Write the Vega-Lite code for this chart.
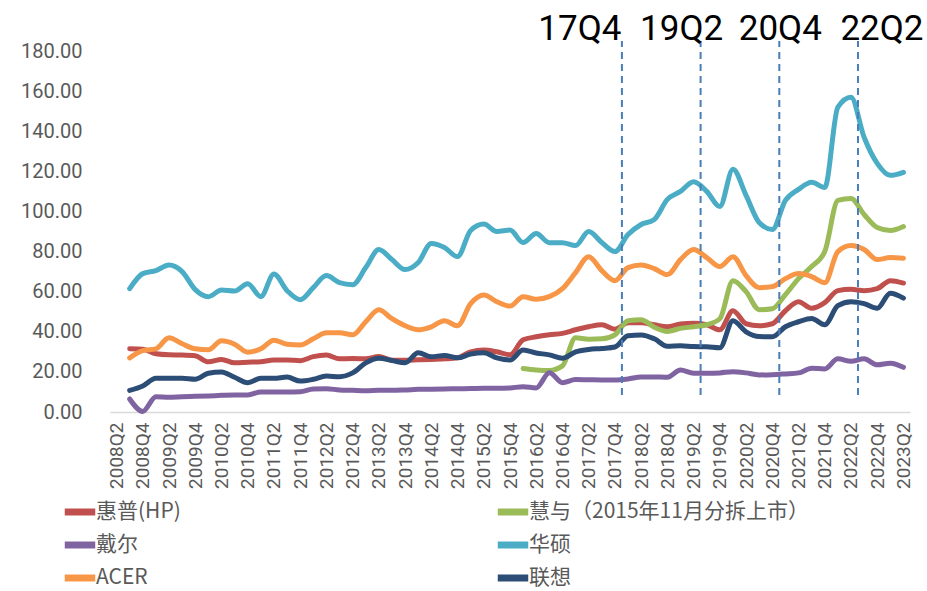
{
  "$schema": "https://vega.github.io/schema/vega-lite/v6.json",
  "width": 800,
  "height": 361,
  "autosize": {"type": "none"},
  "padding": {"left": 110, "top": 51, "right": 17, "bottom": 179},
  "background": "white",
  "config": {"view": {"stroke": null}},
  "datasets": {
    "marks": [
      {"label": "17Q4", "q": "2017Q4"},
      {"label": "19Q2", "q": "2019Q2"},
      {"label": "20Q4", "q": "2020Q4"},
      {"label": "22Q2", "q": "2022Q2"}
    ],
    "series": [
      {"q":"2008Q3","s":"惠普(HP)","v":31.5},{"q":"2008Q4","s":"惠普(HP)","v":31.3},{"q":"2009Q1","s":"惠普(HP)","v":29},{"q":"2009Q2","s":"惠普(HP)","v":28.5},{"q":"2009Q3","s":"惠普(HP)","v":28.4},{"q":"2009Q4","s":"惠普(HP)","v":28},{"q":"2010Q1","s":"惠普(HP)","v":25},{"q":"2010Q2","s":"惠普(HP)","v":26.2},{"q":"2010Q3","s":"惠普(HP)","v":24.5},{"q":"2010Q4","s":"惠普(HP)","v":24.8},{"q":"2011Q1","s":"惠普(HP)","v":25.1},{"q":"2011Q2","s":"惠普(HP)","v":25.9},{"q":"2011Q3","s":"惠普(HP)","v":25.9},{"q":"2011Q4","s":"惠普(HP)","v":25.6},{"q":"2012Q1","s":"惠普(HP)","v":27.6},{"q":"2012Q2","s":"惠普(HP)","v":28.4},{"q":"2012Q3","s":"惠普(HP)","v":26.5},{"q":"2012Q4","s":"惠普(HP)","v":26.7},{"q":"2013Q1","s":"惠普(HP)","v":26.5},{"q":"2013Q2","s":"惠普(HP)","v":27.7},{"q":"2013Q3","s":"惠普(HP)","v":25.8},{"q":"2013Q4","s":"惠普(HP)","v":25.8},{"q":"2014Q1","s":"惠普(HP)","v":26},{"q":"2014Q2","s":"惠普(HP)","v":26.2},{"q":"2014Q3","s":"惠普(HP)","v":26.5},{"q":"2014Q4","s":"惠普(HP)","v":27},{"q":"2015Q1","s":"惠普(HP)","v":30},{"q":"2015Q2","s":"惠普(HP)","v":30.9},{"q":"2015Q3","s":"惠普(HP)","v":30},{"q":"2015Q4","s":"惠普(HP)","v":28.5},{"q":"2016Q1","s":"惠普(HP)","v":36},{"q":"2016Q2","s":"惠普(HP)","v":37.5},{"q":"2016Q3","s":"惠普(HP)","v":38.5},{"q":"2016Q4","s":"惠普(HP)","v":39.2},{"q":"2017Q1","s":"惠普(HP)","v":41},{"q":"2017Q2","s":"惠普(HP)","v":42.5},{"q":"2017Q3","s":"惠普(HP)","v":43.5},{"q":"2017Q4","s":"惠普(HP)","v":41.3},{"q":"2018Q1","s":"惠普(HP)","v":44.5},{"q":"2018Q2","s":"惠普(HP)","v":44.5},{"q":"2018Q3","s":"惠普(HP)","v":43.5},{"q":"2018Q4","s":"惠普(HP)","v":42.5},{"q":"2019Q1","s":"惠普(HP)","v":43.9},{"q":"2019Q2","s":"惠普(HP)","v":44.2},{"q":"2019Q3","s":"惠普(HP)","v":43.5},{"q":"2019Q4","s":"惠普(HP)","v":41},{"q":"2020Q1","s":"惠普(HP)","v":50.5},{"q":"2020Q2","s":"惠普(HP)","v":44},{"q":"2020Q3","s":"惠普(HP)","v":43},{"q":"2020Q4","s":"惠普(HP)","v":44},{"q":"2021Q1","s":"惠普(HP)","v":50.5},{"q":"2021Q2","s":"惠普(HP)","v":55},{"q":"2021Q3","s":"惠普(HP)","v":51.7},{"q":"2021Q4","s":"惠普(HP)","v":54.5},{"q":"2022Q1","s":"惠普(HP)","v":60.5},{"q":"2022Q2","s":"惠普(HP)","v":61.2},{"q":"2022Q3","s":"惠普(HP)","v":60.5},{"q":"2022Q4","s":"惠普(HP)","v":61.5},{"q":"2023Q1","s":"惠普(HP)","v":65.5},{"q":"2023Q2","s":"惠普(HP)","v":64.3},
      {"q":"2016Q1","s":"慧与（2015年11月分拆上市）","v":21.7},{"q":"2016Q2","s":"慧与（2015年11月分拆上市）","v":21},{"q":"2016Q3","s":"慧与（2015年11月分拆上市）","v":20.7},{"q":"2016Q4","s":"慧与（2015年11月分拆上市）","v":23},{"q":"2017Q1","s":"慧与（2015年11月分拆上市）","v":37},{"q":"2017Q2","s":"慧与（2015年11月分拆上市）","v":36.3},{"q":"2017Q3","s":"慧与（2015年11月分拆上市）","v":36.5},{"q":"2017Q4","s":"慧与（2015年11月分拆上市）","v":38.5},{"q":"2018Q1","s":"慧与（2015年11月分拆上市）","v":45.5},{"q":"2018Q2","s":"慧与（2015年11月分拆上市）","v":46},{"q":"2018Q3","s":"慧与（2015年11月分拆上市）","v":42.3},{"q":"2018Q4","s":"慧与（2015年11月分拆上市）","v":40.2},{"q":"2019Q1","s":"慧与（2015年11月分拆上市）","v":41.7},{"q":"2019Q2","s":"慧与（2015年11月分拆上市）","v":42.5},{"q":"2019Q3","s":"慧与（2015年11月分拆上市）","v":43.5},{"q":"2019Q4","s":"慧与（2015年11月分拆上市）","v":46.5},{"q":"2020Q1","s":"慧与（2015年11月分拆上市）","v":65.5},{"q":"2020Q2","s":"慧与（2015年11月分拆上市）","v":60},{"q":"2020Q3","s":"慧与（2015年11月分拆上市）","v":51},{"q":"2020Q4","s":"慧与（2015年11月分拆上市）","v":51.5},{"q":"2021Q1","s":"慧与（2015年11月分拆上市）","v":58.5},{"q":"2021Q2","s":"慧与（2015年11月分拆上市）","v":66.5},{"q":"2021Q3","s":"慧与（2015年11月分拆上市）","v":72.5},{"q":"2021Q4","s":"慧与（2015年11月分拆上市）","v":80},{"q":"2022Q1","s":"慧与（2015年11月分拆上市）","v":105.5},{"q":"2022Q2","s":"慧与（2015年11月分拆上市）","v":106.5},{"q":"2022Q3","s":"慧与（2015年11月分拆上市）","v":98.5},{"q":"2022Q4","s":"慧与（2015年11月分拆上市）","v":92},{"q":"2023Q1","s":"慧与（2015年11月分拆上市）","v":90.5},{"q":"2023Q2","s":"慧与（2015年11月分拆上市）","v":92.5},
      {"q":"2008Q3","s":"戴尔","v":6.5},{"q":"2008Q4","s":"戴尔","v":0.3},{"q":"2009Q1","s":"戴尔","v":7.6},{"q":"2009Q2","s":"戴尔","v":7.3},{"q":"2009Q3","s":"戴尔","v":7.6},{"q":"2009Q4","s":"戴尔","v":7.8},{"q":"2010Q1","s":"戴尔","v":8},{"q":"2010Q2","s":"戴尔","v":8.3},{"q":"2010Q3","s":"戴尔","v":8.5},{"q":"2010Q4","s":"戴尔","v":8.5},{"q":"2011Q1","s":"戴尔","v":10},{"q":"2011Q2","s":"戴尔","v":10},{"q":"2011Q3","s":"戴尔","v":10},{"q":"2011Q4","s":"戴尔","v":10.1},{"q":"2012Q1","s":"戴尔","v":11.5},{"q":"2012Q2","s":"戴尔","v":11.6},{"q":"2012Q3","s":"戴尔","v":11},{"q":"2012Q4","s":"戴尔","v":10.8},{"q":"2013Q1","s":"戴尔","v":10.6},{"q":"2013Q2","s":"戴尔","v":10.8},{"q":"2013Q3","s":"戴尔","v":10.8},{"q":"2013Q4","s":"戴尔","v":11},{"q":"2014Q1","s":"戴尔","v":11.3},{"q":"2014Q2","s":"戴尔","v":11.4},{"q":"2014Q3","s":"戴尔","v":11.5},{"q":"2014Q4","s":"戴尔","v":11.6},{"q":"2015Q1","s":"戴尔","v":11.7},{"q":"2015Q2","s":"戴尔","v":11.8},{"q":"2015Q3","s":"戴尔","v":11.8},{"q":"2015Q4","s":"戴尔","v":12},{"q":"2016Q1","s":"戴尔","v":12.6},{"q":"2016Q2","s":"戴尔","v":12},{"q":"2016Q3","s":"戴尔","v":19.6},{"q":"2016Q4","s":"戴尔","v":14.6},{"q":"2017Q1","s":"戴尔","v":16.2},{"q":"2017Q2","s":"戴尔","v":16.1},{"q":"2017Q3","s":"戴尔","v":16},{"q":"2017Q4","s":"戴尔","v":16},{"q":"2018Q1","s":"戴尔","v":16.5},{"q":"2018Q2","s":"戴尔","v":17.5},{"q":"2018Q3","s":"戴尔","v":17.5},{"q":"2018Q4","s":"戴尔","v":17.3},{"q":"2019Q1","s":"戴尔","v":20.9},{"q":"2019Q2","s":"戴尔","v":19.3},{"q":"2019Q3","s":"戴尔","v":19.3},{"q":"2019Q4","s":"戴尔","v":19.5},{"q":"2020Q1","s":"戴尔","v":20.1},{"q":"2020Q2","s":"戴尔","v":19.5},{"q":"2020Q3","s":"戴尔","v":18.5},{"q":"2020Q4","s":"戴尔","v":18.6},{"q":"2021Q1","s":"戴尔","v":19},{"q":"2021Q2","s":"戴尔","v":19.5},{"q":"2021Q3","s":"戴尔","v":21.8},{"q":"2021Q4","s":"戴尔","v":21.5},{"q":"2022Q1","s":"戴尔","v":26.5},{"q":"2022Q2","s":"戴尔","v":25.3},{"q":"2022Q3","s":"戴尔","v":26.5},{"q":"2022Q4","s":"戴尔","v":23.5},{"q":"2023Q1","s":"戴尔","v":24.3},{"q":"2023Q2","s":"戴尔","v":22.3},
      {"q":"2008Q3","s":"华硕","v":61.5},{"q":"2008Q4","s":"华硕","v":69},{"q":"2009Q1","s":"华硕","v":70.5},{"q":"2009Q2","s":"华硕","v":73.3},{"q":"2009Q3","s":"华硕","v":70},{"q":"2009Q4","s":"华硕","v":61},{"q":"2010Q1","s":"华硕","v":57.5},{"q":"2010Q2","s":"华硕","v":60.8},{"q":"2010Q3","s":"华硕","v":60.3},{"q":"2010Q4","s":"华硕","v":64},{"q":"2011Q1","s":"华硕","v":57.5},{"q":"2011Q2","s":"华硕","v":68.8},{"q":"2011Q3","s":"华硕","v":60.5},{"q":"2011Q4","s":"华硕","v":56},{"q":"2012Q1","s":"华硕","v":62},{"q":"2012Q2","s":"华硕","v":68},{"q":"2012Q3","s":"华硕","v":64.5},{"q":"2012Q4","s":"华硕","v":63.5},{"q":"2013Q1","s":"华硕","v":72},{"q":"2013Q2","s":"华硕","v":81},{"q":"2013Q3","s":"华硕","v":76},{"q":"2013Q4","s":"华硕","v":71},{"q":"2014Q1","s":"华硕","v":74.5},{"q":"2014Q2","s":"华硕","v":84},{"q":"2014Q3","s":"华硕","v":82},{"q":"2014Q4","s":"华硕","v":77.5},{"q":"2015Q1","s":"华硕","v":90.5},{"q":"2015Q2","s":"华硕","v":93.7},{"q":"2015Q3","s":"华硕","v":90},{"q":"2015Q4","s":"华硕","v":90.7},{"q":"2016Q1","s":"华硕","v":84.5},{"q":"2016Q2","s":"华硕","v":89},{"q":"2016Q3","s":"华硕","v":84.4},{"q":"2016Q4","s":"华硕","v":84.4},{"q":"2017Q1","s":"华硕","v":83},{"q":"2017Q2","s":"华硕","v":90},{"q":"2017Q3","s":"华硕","v":84.5},{"q":"2017Q4","s":"华硕","v":80},{"q":"2018Q1","s":"华硕","v":88.5},{"q":"2018Q2","s":"华硕","v":93.5},{"q":"2018Q3","s":"华硕","v":96},{"q":"2018Q4","s":"华硕","v":106},{"q":"2019Q1","s":"华硕","v":110},{"q":"2019Q2","s":"华硕","v":114.8},{"q":"2019Q3","s":"华硕","v":110},{"q":"2019Q4","s":"华硕","v":102.5},{"q":"2020Q1","s":"华硕","v":121},{"q":"2020Q2","s":"华硕","v":108},{"q":"2020Q3","s":"华硕","v":94.5},{"q":"2020Q4","s":"华硕","v":91},{"q":"2021Q1","s":"华硕","v":105.5},{"q":"2021Q2","s":"华硕","v":111},{"q":"2021Q3","s":"华硕","v":114.5},{"q":"2021Q4","s":"华硕","v":112},{"q":"2022Q1","s":"华硕","v":152},{"q":"2022Q2","s":"华硕","v":157},{"q":"2022Q3","s":"华硕","v":137},{"q":"2022Q4","s":"华硕","v":124},{"q":"2023Q1","s":"华硕","v":118},{"q":"2023Q2","s":"华硕","v":119.5},
      {"q":"2008Q3","s":"ACER","v":27},{"q":"2008Q4","s":"ACER","v":30.6},{"q":"2009Q1","s":"ACER","v":31.5},{"q":"2009Q2","s":"ACER","v":37},{"q":"2009Q3","s":"ACER","v":34},{"q":"2009Q4","s":"ACER","v":31.5},{"q":"2010Q1","s":"ACER","v":31},{"q":"2010Q2","s":"ACER","v":35.5},{"q":"2010Q3","s":"ACER","v":33.8},{"q":"2010Q4","s":"ACER","v":29.8},{"q":"2011Q1","s":"ACER","v":31.5},{"q":"2011Q2","s":"ACER","v":35.8},{"q":"2011Q3","s":"ACER","v":33.8},{"q":"2011Q4","s":"ACER","v":33.4},{"q":"2012Q1","s":"ACER","v":36.5},{"q":"2012Q2","s":"ACER","v":39.5},{"q":"2012Q3","s":"ACER","v":39.5},{"q":"2012Q4","s":"ACER","v":38.5},{"q":"2013Q1","s":"ACER","v":45},{"q":"2013Q2","s":"ACER","v":51},{"q":"2013Q3","s":"ACER","v":46.5},{"q":"2013Q4","s":"ACER","v":43},{"q":"2014Q1","s":"ACER","v":41},{"q":"2014Q2","s":"ACER","v":42.5},{"q":"2014Q3","s":"ACER","v":45.5},{"q":"2014Q4","s":"ACER","v":43},{"q":"2015Q1","s":"ACER","v":54},{"q":"2015Q2","s":"ACER","v":58.3},{"q":"2015Q3","s":"ACER","v":55},{"q":"2015Q4","s":"ACER","v":52.8},{"q":"2016Q1","s":"ACER","v":57.5},{"q":"2016Q2","s":"ACER","v":56.2},{"q":"2016Q3","s":"ACER","v":57.5},{"q":"2016Q4","s":"ACER","v":61.5},{"q":"2017Q1","s":"ACER","v":69.5},{"q":"2017Q2","s":"ACER","v":77.4},{"q":"2017Q3","s":"ACER","v":70.5},{"q":"2017Q4","s":"ACER","v":65.5},{"q":"2018Q1","s":"ACER","v":72},{"q":"2018Q2","s":"ACER","v":73.3},{"q":"2018Q3","s":"ACER","v":71.5},{"q":"2018Q4","s":"ACER","v":68.5},{"q":"2019Q1","s":"ACER","v":76},{"q":"2019Q2","s":"ACER","v":81},{"q":"2019Q3","s":"ACER","v":77},{"q":"2019Q4","s":"ACER","v":72.5},{"q":"2020Q1","s":"ACER","v":77.4},{"q":"2020Q2","s":"ACER","v":68},{"q":"2020Q3","s":"ACER","v":62},{"q":"2020Q4","s":"ACER","v":62.5},{"q":"2021Q1","s":"ACER","v":66.5},{"q":"2021Q2","s":"ACER","v":69},{"q":"2021Q3","s":"ACER","v":67.5},{"q":"2021Q4","s":"ACER","v":64.5},{"q":"2022Q1","s":"ACER","v":80},{"q":"2022Q2","s":"ACER","v":83},{"q":"2022Q3","s":"ACER","v":81},{"q":"2022Q4","s":"ACER","v":76},{"q":"2023Q1","s":"ACER","v":77},{"q":"2023Q2","s":"ACER","v":76.7},
      {"q":"2008Q3","s":"联想","v":10.8},{"q":"2008Q4","s":"联想","v":13},{"q":"2009Q1","s":"联想","v":16.8},{"q":"2009Q2","s":"联想","v":16.8},{"q":"2009Q3","s":"联想","v":16.8},{"q":"2009Q4","s":"联想","v":16.3},{"q":"2010Q1","s":"联想","v":19.3},{"q":"2010Q2","s":"联想","v":20},{"q":"2010Q3","s":"联想","v":17.3},{"q":"2010Q4","s":"联想","v":14.6},{"q":"2011Q1","s":"联想","v":16.8},{"q":"2011Q2","s":"联想","v":16.8},{"q":"2011Q3","s":"联想","v":17.4},{"q":"2011Q4","s":"联想","v":15.4},{"q":"2012Q1","s":"联想","v":16.3},{"q":"2012Q2","s":"联想","v":17.9},{"q":"2012Q3","s":"联想","v":17.6},{"q":"2012Q4","s":"联想","v":19.5},{"q":"2013Q1","s":"联想","v":24.5},{"q":"2013Q2","s":"联想","v":26.8},{"q":"2013Q3","s":"联想","v":25.7},{"q":"2013Q4","s":"联想","v":24.5},{"q":"2014Q1","s":"联想","v":29.6},{"q":"2014Q2","s":"联想","v":27.5},{"q":"2014Q3","s":"联想","v":28.2},{"q":"2014Q4","s":"联想","v":27},{"q":"2015Q1","s":"联想","v":28.9},{"q":"2015Q2","s":"联想","v":29.6},{"q":"2015Q3","s":"联想","v":27},{"q":"2015Q4","s":"联想","v":25.9},{"q":"2016Q1","s":"联想","v":30.9},{"q":"2016Q2","s":"联想","v":29.4},{"q":"2016Q3","s":"联想","v":28.5},{"q":"2016Q4","s":"联想","v":26.8},{"q":"2017Q1","s":"联想","v":30},{"q":"2017Q2","s":"联想","v":31.2},{"q":"2017Q3","s":"联想","v":31.7},{"q":"2017Q4","s":"联想","v":32.4},{"q":"2018Q1","s":"联想","v":38},{"q":"2018Q2","s":"联想","v":38.4},{"q":"2018Q3","s":"联想","v":36.5},{"q":"2018Q4","s":"联想","v":32.8},{"q":"2019Q1","s":"联想","v":33},{"q":"2019Q2","s":"联想","v":32.6},{"q":"2019Q3","s":"联想","v":32.5},{"q":"2019Q4","s":"联想","v":32},{"q":"2020Q1","s":"联想","v":45.5},{"q":"2020Q2","s":"联想","v":40},{"q":"2020Q3","s":"联想","v":37.6},{"q":"2020Q4","s":"联想","v":37.5},{"q":"2021Q1","s":"联想","v":42.5},{"q":"2021Q2","s":"联想","v":45},{"q":"2021Q3","s":"联想","v":46.6},{"q":"2021Q4","s":"联想","v":43.5},{"q":"2022Q1","s":"联想","v":53},{"q":"2022Q2","s":"联想","v":55},{"q":"2022Q3","s":"联想","v":54},{"q":"2022Q4","s":"联想","v":51.7},{"q":"2023Q1","s":"联想","v":59.2},{"q":"2023Q2","s":"联想","v":56.8}
    ]
  },
  "encoding": {
    "x": {
      "field": "q", "type": "ordinal", "sort": null,
      "scale": {"type": "point", "padding": 0.5, "domain": ["2008Q2","2008Q3","2008Q4","2009Q1","2009Q2","2009Q3","2009Q4","2010Q1","2010Q2","2010Q3","2010Q4","2011Q1","2011Q2","2011Q3","2011Q4","2012Q1","2012Q2","2012Q3","2012Q4","2013Q1","2013Q2","2013Q3","2013Q4","2014Q1","2014Q2","2014Q3","2014Q4","2015Q1","2015Q2","2015Q3","2015Q4","2016Q1","2016Q2","2016Q3","2016Q4","2017Q1","2017Q2","2017Q3","2017Q4","2018Q1","2018Q2","2018Q3","2018Q4","2019Q1","2019Q2","2019Q3","2019Q4","2020Q1","2020Q2","2020Q3","2020Q4","2021Q1","2021Q2","2021Q3","2021Q4","2022Q1","2022Q2","2022Q3","2022Q4","2023Q1","2023Q2"]},
      "axis": {
        "title": null, "grid": false, "ticks": false, "tickSize": 0,
        "domain": true, "domainColor": "#d9d9d9", "domainWidth": 1.5,
        "labelAngle": -90, "labelPadding": 10, "labelFontSize": 19,
        "labelFont": "Liberation Sans Narrow, Roboto", "labelColor": "#595959",
        "values": ["2008Q2","2008Q4","2009Q2","2009Q4","2010Q2","2010Q4","2011Q2","2011Q4","2012Q2","2012Q4","2013Q2","2013Q4","2014Q2","2014Q4","2015Q2","2015Q4","2016Q2","2016Q4","2017Q2","2017Q4","2018Q2","2018Q4","2019Q2","2019Q4","2020Q2","2020Q4","2021Q2","2021Q4","2022Q2","2022Q4","2023Q2"]
      }
    }
  },
  "layer": [
    {
      "data": {"name": "series"},
      "mark": {"type": "line", "strokeWidth": 5, "interpolate": "monotone", "strokeCap": "round", "strokeJoin": "round"},
      "encoding": {
        "y": {
          "field": "v", "type": "quantitative",
          "scale": {"domain": [0, 180], "nice": false},
          "axis": {
            "title": null, "grid": false, "domain": false, "ticks": false, "tickSize": 0,
            "values": [0,20,40,60,80,100,120,140,160,180], "format": ".2f",
            "labelPadding": 28, "labelFontSize": 20, "labelFont": "Liberation Sans Narrow, Roboto", "labelColor": "#595959"
          }
        },
        "color": {
          "field": "s", "type": "nominal",
          "scale": {
            "domain": ["惠普(HP)","戴尔","ACER","慧与（2015年11月分拆上市）","华硕","联想"],
            "range": ["#c0504d","#8064a2","#f79646","#9bbb59","#4bacc6","#2c4d75"]
          },
          "legend": {
            "title": null, "orient": "none", "legendX": -49, "legendY": 442,
            "direction": "vertical", "columns": 2, "columnPadding": 302, "rowPadding": 0,
            "symbolType": "stroke", "symbolSize": 930, "symbolStrokeWidth": 7,
            "labelFontSize": 21, "labelFont": "Noto Sans CJK SC", "labelColor": "#595959",
            "labelOffset": -3, "labelLimit": 600
          }
        }
      }
    },
    {
      "data": {"name": "marks"},
      "mark": {"type": "rule", "strokeDash": [7, 5], "strokeWidth": 2, "color": "#4a7ebb", "xOffset": 7},
      "encoding": {
        "y": {"datum": 8.5, "type": "quantitative", "scale": {"domain": [0, 180], "nice": false}},
        "y2": {"datum": 185}
      }
    },
    {
      "data": {"name": "marks"},
      "transform": [{"filter": "datum.label === '17Q4'"}],
      "mark": {"type": "text", "fontSize": 35, "font": "Liberation Sans Narrow, Roboto", "color": "#000000", "align": "center", "baseline": "alphabetic", "dx": -35},
      "encoding": {"text": {"field": "label"}, "y": {"datum": 185.5, "type": "quantitative", "scale": {"domain": [0, 180], "nice": false}}}
    },
    {
      "data": {"name": "marks"},
      "transform": [{"filter": "datum.label === '19Q2'"}],
      "mark": {"type": "text", "fontSize": 35, "font": "Liberation Sans Narrow, Roboto", "color": "#000000", "align": "center", "baseline": "alphabetic", "dx": -12},
      "encoding": {"text": {"field": "label"}, "y": {"datum": 185.5, "type": "quantitative", "scale": {"domain": [0, 180], "nice": false}}}
    },
    {
      "data": {"name": "marks"},
      "transform": [{"filter": "datum.label === '20Q4'"}],
      "mark": {"type": "text", "fontSize": 35, "font": "Liberation Sans Narrow, Roboto", "color": "#000000", "align": "center", "baseline": "alphabetic", "dx": 8},
      "encoding": {"text": {"field": "label"}, "y": {"datum": 185.5, "type": "quantitative", "scale": {"domain": [0, 180], "nice": false}}}
    },
    {
      "data": {"name": "marks"},
      "transform": [{"filter": "datum.label === '22Q2'"}],
      "mark": {"type": "text", "fontSize": 35, "font": "Liberation Sans Narrow, Roboto", "color": "#000000", "align": "center", "baseline": "alphabetic", "dx": 31},
      "encoding": {"text": {"field": "label"}, "y": {"datum": 185.5, "type": "quantitative", "scale": {"domain": [0, 180], "nice": false}}}
    }
  ]
}
